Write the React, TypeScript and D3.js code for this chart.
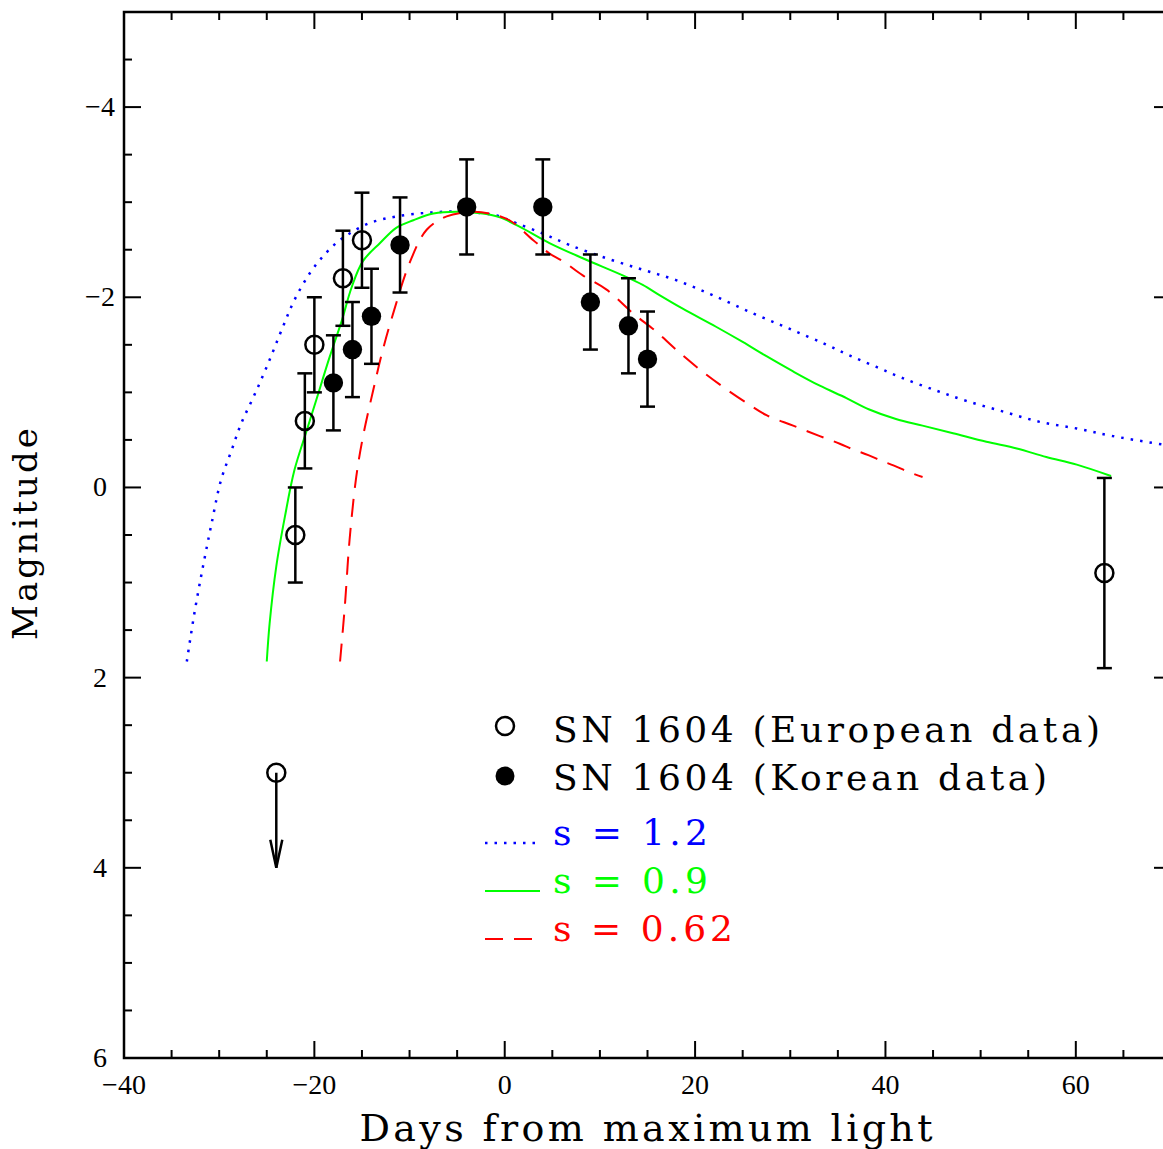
import React, { useEffect, useRef } from "react";
import * as d3 from "d3";

// European observations (open circles)
const euroDays = [-22, -21, -20, -17, -15, 63];
const euroMags = [0.5, -0.7, -1.5, -2.2, -2.6, 0.9];
const euroErrs = [0.5, 0.5, 0.5, 0.5, 0.5, 1.0];

// upper limit (open circle with arrow)
const limitDay = -24;
const limitMag = 3.0;
const limitArrowTo = 4.0;

// Korean observations (filled circles)
const koreaDays = [-18, -16, -14, -11, -4, 4, 9, 13, 15];
const koreaMags = [-1.1, -1.45, -1.8, -2.55, -2.95, -2.95, -1.95, -1.7, -1.35];
const koreaErrs = [0.5, 0.5, 0.5, 0.5, 0.5, 0.5, 0.5, 0.5, 0.5];

// template light curves
const s12Days = [-33.4, -32.6, -31.7, -30.8, -29.8, -28.7, -27.7, -26.4, -25.0, -23.3, -22.1, -20.5, -19.1, -17.7, -16.3, -14.2, -11.4, -7.9, -4.4, -0.9, 1.2, 4.0, 6.8, 10.7, 14.5, 18.0, 21.9, 26.1, 29.9, 33.6, 36.2, 39.0, 41.8, 45.3, 48.5, 52.3, 56.2, 60.1, 63.9, 69.2];
const s12Mags = [1.83, 1.32, 0.83, 0.38, -0.08, -0.39, -0.67, -0.95, -1.27, -1.69, -1.97, -2.25, -2.43, -2.57, -2.67, -2.78, -2.85, -2.89, -2.9, -2.86, -2.78, -2.67, -2.55, -2.41, -2.29, -2.18, -2.02, -1.83, -1.67, -1.51, -1.39, -1.27, -1.15, -1.02, -0.91, -0.8, -0.69, -0.62, -0.54, -0.45];

const s09Days = [-25.0, -24.7, -24.0, -23.1, -22.1, -20.8, -19.8, -18.4, -17.1, -16.1, -14.9, -13.1, -11.4, -9.6, -7.5, -5.1, -2.3, -0.5, 1.6, 4.7, 8.2, 12.4, 14.5, 16.3, 18.7, 22.2, 25.0, 27.5, 30.3, 33.1, 35.9, 38.3, 41.1, 43.9, 47.1, 50.6, 53.8, 56.9, 60.1, 63.7];
const s09Mags = [1.83, 1.43, 0.83, 0.31, -0.18, -0.6, -0.92, -1.37, -1.76, -2.1, -2.38, -2.57, -2.73, -2.81, -2.88, -2.9, -2.88, -2.84, -2.74, -2.57, -2.41, -2.23, -2.13, -2.02, -1.88, -1.69, -1.53, -1.38, -1.22, -1.07, -0.94, -0.82, -0.72, -0.65, -0.57, -0.48, -0.41, -0.32, -0.24, -0.12];

const s062Days = [-17.3, -16.8, -16.3, -15.6, -14.9, -13.8, -12.8, -11.6, -10.0, -8.2, -6.1, -3.3, -1.6, 0.5, 3.0, 4.7, 6.1, 8.2, 10.7, 13.5, 15.9, 18.0, 20.5, 22.9, 25.4, 27.5, 30.3, 33.1, 35.2, 36.6, 38.2, 39.6, 40.9, 42.5, 43.9];
const s062Mags = [1.83, 1.25, 0.55, -0.11, -0.53, -1.03, -1.45, -1.87, -2.36, -2.71, -2.85, -2.9, -2.88, -2.81, -2.6, -2.46, -2.38, -2.23, -2.08, -1.83, -1.64, -1.45, -1.24, -1.06, -0.89, -0.76, -0.65, -0.54, -0.46, -0.4, -0.34, -0.28, -0.23, -0.16, -0.11];

const xTicks = [-40, -20, 0, 20, 40, 60];
const yTicks = [-4, -2, 0, 2, 4, 6];
const legendLabels = ["SN 1604 (European data)", "SN 1604 (Korean data)"];
const modelLabels = ["s = 1.2", "s = 0.9", "s = 0.62"];
const modelColors = ["#0000ff", "#00ff00", "#ff0000"];

const TICK_FONT = "'Liberation Serif', serif";
const LABEL_FONT = "'DejaVu Serif', serif";

const App: React.FC = () => {
  const svgRef = useRef<SVGSVGElement | null>(null);

  useEffect(() => {
    if (!svgRef.current) return;
    const svg = d3.select(svgRef.current);
    svg.selectAll("*").remove();

    const left = 124, right = 1171, top = 12, bottom = 1058;
    const x = d3.scaleLinear().domain([-40, 70]).range([left, right]);
    const y = d3.scaleLinear().domain([-5, 6]).range([top, bottom]);

    svg
      .append("defs")
      .append("clipPath")
      .attr("id", "plot-clip")
      .append("rect")
      .attr("x", left)
      .attr("y", top)
      .attr("width", right - left)
      .attr("height", bottom - top);

    // frame
    svg
      .append("rect")
      .attr("x", left)
      .attr("y", top)
      .attr("width", right - left)
      .attr("height", bottom - top)
      .attr("fill", "none")
      .attr("stroke", "black")
      .attr("stroke-width", 2.5);

    // ticks, all pointing inward
    const ticks = svg.append("g").attr("stroke", "black").attr("stroke-width", 2);
    d3.range(-40, 71, 5).forEach((v) => {
      const len = v % 20 === 0 ? 17 : 8;
      ticks.append("line").attr("x1", x(v)).attr("x2", x(v)).attr("y1", bottom).attr("y2", bottom - len);
      ticks.append("line").attr("x1", x(v)).attr("x2", x(v)).attr("y1", top).attr("y2", top + len);
    });
    d3.range(-5, 6.01, 0.5).forEach((v) => {
      const len = Math.abs(v % 2) < 1e-6 ? 17 : 8;
      ticks.append("line").attr("x1", left).attr("x2", left + len).attr("y1", y(v)).attr("y2", y(v));
      ticks.append("line").attr("x1", right).attr("x2", right - len).attr("y1", y(v)).attr("y2", y(v));
    });

    const fmt = (v: number) => (v < 0 ? "\u2212" + Math.abs(v) : String(v));

    svg
      .append("g")
      .selectAll("text")
      .data(xTicks)
      .enter()
      .append("text")
      .attr("x", (d) => x(d))
      .attr("y", 1094)
      .attr("text-anchor", "middle")
      .attr("font-family", TICK_FONT)
      .attr("font-size", 28)
      .text(fmt);

    svg
      .append("g")
      .selectAll("text")
      .data(yTicks)
      .enter()
      .append("text")
      .attr("x", 100)
      .attr("y", (d) => y(d) + 9)
      .attr("text-anchor", "middle")
      .attr("font-family", TICK_FONT)
      .attr("font-size", 28)
      .text(fmt);

    svg
      .append("text")
      .attr("x", 646)
      .attr("y", 1141)
      .attr("text-anchor", "middle")
      .attr("font-family", LABEL_FONT)
      .attr("font-size", 38)
      .attr("textLength", 573)
      .attr("lengthAdjust", "spacing")
      .text("Days from maximum light");

    svg
      .append("text")
      .attr("transform", "translate(37,534) rotate(-90)")
      .attr("text-anchor", "middle")
      .attr("font-family", LABEL_FONT)
      .attr("font-size", 34)
      .attr("textLength", 212)
      .attr("lengthAdjust", "spacing")
      .text("Magnitude");

    // model curves
    const plot = svg.append("g").attr("clip-path", "url(#plot-clip)");
    const line = d3
      .line<[number, number]>()
      .x((d) => x(d[0]))
      .y((d) => y(d[1]))
      .curve(d3.curveCatmullRom.alpha(0.5));

    const models: { days: number[]; mags: number[]; dash: string | null; width: number }[] = [
      { days: s12Days, mags: s12Mags, dash: "2.5,7", width: 2.5 },
      { days: s09Days, mags: s09Mags, dash: null, width: 2 },
      { days: s062Days, mags: s062Mags, dash: "18,11", width: 2 },
    ];
    models.forEach((m, i) => {
      const pts = m.days.map((d, j) => [d, m.mags[j]] as [number, number]);
      const p = plot
        .append("path")
        .attr("d", line(pts))
        .attr("fill", "none")
        .attr("stroke", modelColors[i])
        .attr("stroke-width", m.width);
      if (m.dash) p.attr("stroke-dasharray", m.dash);
    });

    // error bars and points
    const drawPoints = (days: number[], mags: number[], errs: number[], filled: boolean) => {
      const g = plot.append("g").attr("stroke", "black").attr("stroke-width", 2.5);
      days.forEach((d, i) => {
        const cx = x(d);
        const y1 = y(mags[i] - errs[i]);
        const y2 = y(mags[i] + errs[i]);
        g.append("line").attr("x1", cx).attr("x2", cx).attr("y1", y1).attr("y2", y2);
        g.append("line").attr("x1", cx - 7.5).attr("x2", cx + 7.5).attr("y1", y1).attr("y2", y1);
        g.append("line").attr("x1", cx - 7.5).attr("x2", cx + 7.5).attr("y1", y2).attr("y2", y2);
        g.append("circle")
          .attr("cx", cx)
          .attr("cy", y(mags[i]))
          .attr("r", filled ? 9.7 : 9)
          .attr("fill", filled ? "black" : "none")
          .attr("stroke-width", filled ? 0 : 2.5);
      });
    };
    drawPoints(euroDays, euroMags, euroErrs, false);
    drawPoints(koreaDays, koreaMags, koreaErrs, true);

    // upper limit
    const lx = x(limitDay);
    const ly = y(limitMag);
    const tip = y(limitArrowTo);
    const lg = plot.append("g").attr("stroke", "black").attr("stroke-width", 2.5).attr("fill", "none");
    lg.append("circle").attr("cx", lx).attr("cy", ly).attr("r", 9);
    lg.append("line").attr("x1", lx).attr("x2", lx).attr("y1", ly).attr("y2", tip);
    lg.append("path").attr("d", `M${lx - 6},${tip - 28} L${lx},${tip} L${lx + 6},${tip - 28}`);

    // legend
    const leg = svg.append("g");
    leg.append("circle").attr("cx", 505).attr("cy", 726).attr("r", 9)
      .attr("fill", "none").attr("stroke", "black").attr("stroke-width", 2.5);
    leg.append("circle").attr("cx", 505).attr("cy", 776).attr("r", 9.5).attr("fill", "black");
    legendLabels.forEach((t, i) => {
      leg.append("text")
        .attr("x", 553)
        .attr("y", 742 + i * 48)
        .attr("font-family", LABEL_FONT)
        .attr("font-size", 36)
        .attr("textLength", i === 0 ? 547 : 494)
        .attr("lengthAdjust", "spacing")
        .text(t);
    });
    modelLabels.forEach((t, i) => {
      const ly2 = 843 + i * 48;
      const l = leg.append("line")
        .attr("x1", 485).attr("x2", 540).attr("y1", ly2).attr("y2", ly2)
        .attr("stroke", modelColors[i])
        .attr("stroke-width", models[i].width);
      if (models[i].dash) l.attr("stroke-dasharray", i === 0 ? "2.5,7" : "18,11");
      leg.append("text")
        .attr("x", 553)
        .attr("y", 845 + i * 48)
        .attr("font-family", LABEL_FONT)
        .attr("font-size", 36)
        .attr("fill", modelColors[i])
        .attr("textLength", i === 2 ? 180 : 155)
        .attr("lengthAdjust", "spacing")
        .text(t);
    });
  }, []);

  return (
    <svg
      ref={svgRef}
      width={1163}
      height={1149}
      style={{ position: "absolute", left: 0, top: 0, background: "white" }}
    ></svg>
  );
};

export default App;
